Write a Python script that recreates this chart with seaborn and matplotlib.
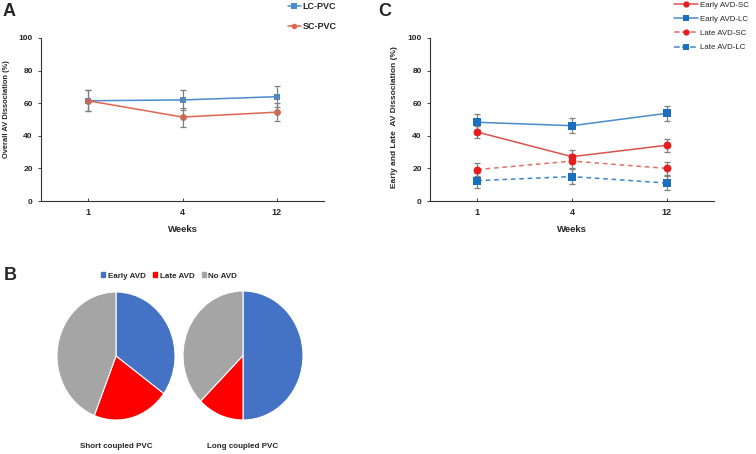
import pandas as pd
import matplotlib.pyplot as plt
import seaborn as sns
import numpy as np
from matplotlib.patches import Patch
from matplotlib.lines import Line2D

# Data
weeks = ['1', '4', '12']

# Panel A: overall AV dissociation (%)
lc_pvc = [61.5, 62.0, 64.0]
lc_pvc_err = [6.4, 6.3, 6.5]
sc_pvc = [61.5, 51.5, 54.5]
sc_pvc_err = [6.5, 5.8, 5.7]

# Panel C: early / late AV dissociation (%)
early_sc = [42.3, 27.2, 34.2]
early_sc_err = [3.8, 4.0, 4.0]
early_lc = [48.3, 46.2, 53.8]
early_lc_err = [4.8, 4.5, 4.5]
late_sc = [19.3, 24.5, 20.0]
late_sc_err = [4.0, 4.2, 4.0]
late_lc = [12.5, 15.0, 11.0]
late_lc_err = [4.6, 4.4, 4.4]

# Panel B: pie fractions (%)
pie_labels = ['Early AVD', 'Late AVD', 'No AVD']
short_coupled = [35.0, 21.0, 44.0]
long_coupled = [50.0, 12.5, 37.5]
pie_titles = ['Short coupled PVC', 'Long coupled PVC']

# Colours
BLUE_A = '#4A8CCB'
RED_A = '#E0654F'
RED_C = '#E41E1E'
BLUE_C = '#1A6FBF'
PIE_COLORS = ['#4472C4', '#FF0000', '#A5A5A5']
ERR_COLOR = '#7F7F7F'

sns.set_style('ticks')
plt.rcParams['font.family'] = ['Liberation Sans', 'DejaVu Sans']
plt.rcParams['font.weight'] = 'bold'

W, H = 756, 454
fig = plt.figure(figsize=(W / 100, H / 100), dpi=100)


def px_axes(left, top, right, bottom):
    return fig.add_axes([left / W, 1 - bottom / H, (right - left) / W, (bottom - top) / H])


def style_axes(ax, ylabel, ysize, label_xy):
    ax.set_xlim(-0.5, 2.5)
    ax.set_ylim(0, 100)
    ax.set_yticks([0, 20, 40, 60, 80, 100])
    sns.despine(ax=ax)
    for s in ['left', 'bottom']:
        ax.spines[s].set_color('#333333')
        ax.spines[s].set_linewidth(0.8)
    ax.tick_params(axis='y', labelsize=6, length=2, width=0.6, pad=4)
    ax.tick_params(axis='x', labelsize=6.5, length=2, width=0.6, direction='in', pad=5)
    for lab in ax.get_xticklabels() + ax.get_yticklabels():
        lab.set_fontweight('bold')
    ax.set_xlabel('Weeks', fontsize=6.8, fontweight='bold', labelpad=6)
    ax.set_ylabel(ylabel, fontsize=ysize, fontweight='bold')
    ax.yaxis.set_label_coords(*label_xy)


# ---------------- Panel A ----------------
axA = px_axes(41, 38, 324, 201)
dfA = pd.DataFrame({
    'Week': weeks * 2,
    'Value': lc_pvc + sc_pvc,
    'Group': ['LC-PVC'] * 3 + ['SC-PVC'] * 3,
})
sns.lineplot(data=dfA, x='Week', y='Value', hue='Group', style='Group',
             palette={'LC-PVC': BLUE_A, 'SC-PVC': RED_A},
             markers={'LC-PVC': 's', 'SC-PVC': 'o'}, dashes=False,
             markersize=5, markeredgewidth=0, linewidth=1.1, sort=False,
             legend=False, ax=axA, zorder=2)
xpos = np.arange(len(weeks))
for vals, errs in [(lc_pvc, lc_pvc_err), (sc_pvc, sc_pvc_err)]:
    axA.errorbar(xpos, vals, yerr=errs, fmt='none', ecolor=ERR_COLOR,
                 elinewidth=0.9, capsize=2.2, capthick=0.9, zorder=3)
style_axes(axA, 'Overall AV Dissociation (%)', 5.4, (-0.108, 0.567))

legA = fig.legend(handles=[
    Line2D([], [], color=BLUE_A, marker='s', markersize=4, lw=1.1, markeredgewidth=0),
    Line2D([], [], color=RED_A, marker='o', markersize=4, lw=1.1, markeredgewidth=0)],
    labels=['LC-PVC', 'SC-PVC'], loc='upper left', bbox_to_anchor=(288 / W, 1 - 2 / H),
    frameon=False, fontsize=6.5, handlelength=1.4, handletextpad=0.2,
    labelspacing=1.2, borderpad=0, borderaxespad=0)
for t in legA.get_texts():
    t.set_fontweight('bold')

# ---------------- Panel C ----------------
axC = px_axes(430, 38, 714, 201)
series_c = [
    ('Early AVD-SC', early_sc, early_sc_err, RED_C, 'o', '-'),
    ('Early AVD-LC', early_lc, early_lc_err, BLUE_C, 's', '-'),
    ('Late AVD-SC', late_sc, late_sc_err, RED_C, 'o', '--'),
    ('Late AVD-LC', late_lc, late_lc_err, BLUE_C, 's', '--'),
]
dfC = pd.DataFrame({
    'Week': weeks * 4,
    'Value': early_sc + early_lc + late_sc + late_lc,
    'Group': sum([[s[0]] * 3 for s in series_c], []),
})
line_colors = {'Early AVD-SC': '#D9534F', 'Early AVD-LC': '#4A8CC8',
               'Late AVD-SC': '#E07060', 'Late AVD-LC': '#3D85C6'}
sns.lineplot(data=dfC, x='Week', y='Value', hue='Group', style='Group',
             palette=line_colors, markers=False,
             dashes={'Early AVD-SC': '', 'Early AVD-LC': '',
                     'Late AVD-SC': (3, 2.5), 'Late AVD-LC': (3, 2.5)},
             linewidth=1.1, sort=False, legend=False, ax=axC, zorder=2)
for name, vals, errs, col, mk, ls in series_c:
    axC.errorbar(xpos, vals, yerr=errs, fmt='none', ecolor=ERR_COLOR,
                 elinewidth=0.9, capsize=2, capthick=0.9, zorder=3)
    sns.scatterplot(x=xpos, y=vals, color=col, marker=mk, s=32, linewidth=0,
                    ax=axC, zorder=4, legend=False)
style_axes(axC, 'Early and Late  AV Dissociation (%)', 6, (-0.111, 0.512))
axC.set_xticks(xpos)
axC.set_xticklabels(weeks)
for lab in axC.get_xticklabels():
    lab.set_fontweight('bold')
axC.set_xlim(-0.5, 2.5)

legC = fig.legend(handles=[
    Line2D([], [], color=line_colors[n], ls=ls, lw=1.1, marker=mk, markersize=4.5,
           markerfacecolor=col, markeredgewidth=0)
    for n, v, e, col, mk, ls in series_c],
    labels=[s[0] for s in series_c], loc='upper left',
    bbox_to_anchor=(674 / W, 1 - 1 / H), frameon=False, fontsize=5.7,
    handlelength=3.0, handletextpad=0.3, labelspacing=0.85,
    borderpad=0, borderaxespad=0)
for t in legC.get_texts():
    t.set_fontweight('normal')

# ---------------- Panel B ----------------
pie_boxes = [(57, 292, 175, 420), (183, 291, 303, 420)]
for vals, title, box in zip([short_coupled, long_coupled], pie_titles, pie_boxes):
    axp = px_axes(*box)
    axp.pie(vals, colors=PIE_COLORS, startangle=90, counterclock=False,
            wedgeprops=dict(edgecolor='white', linewidth=0.8))
    axp.set_aspect('auto')
    axp.set_xlim(-1.0, 1.0)
    axp.set_ylim(-1.0, 1.0)
    axp.set_axis_off()
    cx = (box[0] + box[2]) / 2
    fig.text(cx / W, 1 - 446 / H, title, ha='center', va='center',
             fontsize=5.8, fontweight='bold')

legB = fig.legend(handles=[Patch(color=c) for c in PIE_COLORS], labels=pie_labels,
                  loc='center', bbox_to_anchor=(169 / W, 1 - 276 / H), ncol=3,
                  frameon=False, fontsize=5.8, handlelength=0.55, handleheight=0.55,
                  handletextpad=0.3, columnspacing=0.9, borderpad=0)
for t in legB.get_texts():
    t.set_fontweight('bold')

# Panel letters
fig.text(3 / W, 1 - 12 / H, 'A', fontsize=13, fontweight='bold', va='center')
fig.text(378 / W, 1 - 12 / H, 'C', fontsize=13, fontweight='bold', va='center')
fig.text(4 / W, 1 - 275 / H, 'B', fontsize=13, fontweight='bold', va='center')

fig.savefig('out.png', dpi=100, facecolor='white')
